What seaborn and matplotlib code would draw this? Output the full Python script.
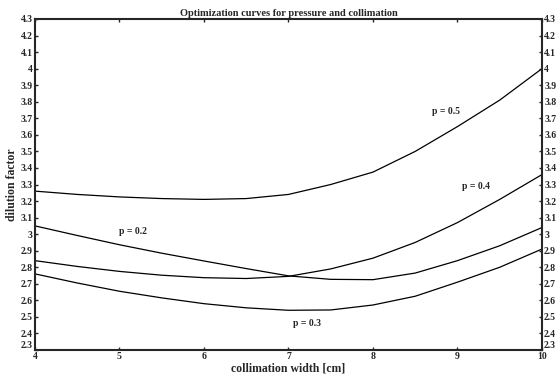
import numpy as np
import pandas as pd
import seaborn as sns
import matplotlib
matplotlib.use("Agg")
import matplotlib.pyplot as plt
import matplotlib.ticker as ticker
import matplotlib.transforms as mtransforms

# values
width = [4.0, 4.5, 5.0, 5.5, 6.0, 6.5, 7.0, 7.5, 8.0, 8.5, 9.0, 9.5, 10.0]
p02 = [3.05, 2.992, 2.936, 2.885, 2.838, 2.792, 2.748, 2.727, 2.725, 2.765, 2.84, 2.93, 3.04]
p03 = [2.76, 2.705, 2.655, 2.615, 2.58, 2.555, 2.54, 2.542, 2.572, 2.625, 2.71, 2.80, 2.91]
p04 = [2.84, 2.805, 2.775, 2.752, 2.737, 2.732, 2.745, 2.79, 2.855, 2.95, 3.07, 3.21, 3.36]
p05 = [3.26, 3.24, 3.225, 3.215, 3.21, 3.215, 3.24, 3.30, 3.375, 3.50, 3.65, 3.81, 4.0]

labels = ["p = 0.2", "p = 0.3", "p = 0.4", "p = 0.5"]
label_pos = [(5.16, 3.015), (7.22, 2.463), (9.22, 3.285), (8.86, 3.74)]

yticks = np.round(np.arange(2.3, 4.31, 0.1), 1)
xticks = [4, 5, 6, 7, 8, 9, 10]

df = pd.DataFrame({
    "width": width * 4,
    "dilution": p02 + p03 + p04 + p05,
    "p": sum([[lab] * len(width) for lab in labels], []),
})

sns.set_style("ticks")
plt.rcParams['font.family'] = ['Liberation Serif', 'DejaVu Serif']
plt.rcParams['font.weight'] = 'bold'

fig = plt.figure(figsize=(5.58, 3.76), dpi=100)
ax = fig.add_axes([0.0627, 0.0691, 0.9086, 0.8804])

sns.lineplot(data=df, x="width", y="dilution", hue="p", palette=["black"] * 4,
             legend=False, linewidth=0.9, ax=ax)

for lab, (lx, ly) in zip(labels, label_pos):
    ax.text(lx, ly, lab, fontsize=7, fontweight='bold', ha='center', va='center')

ax.set_xlim(4, 10)
ax.set_ylim(2.3, 4.3)
ax.set_xticks(xticks)
ax.set_yticks(yticks)
ax.xaxis.set_major_formatter(ticker.FuncFormatter(lambda v, pos: f"{v:g}"))
ax.yaxis.set_major_formatter(ticker.FuncFormatter(lambda v, pos: f"{v:g}"))

ax.tick_params(axis='x', which='both', bottom=True, top=True, direction='in',
               length=2.5, width=1, labelsize=7, pad=1.5)
ax.tick_params(axis='y', which='both', left=True, right=True, labelright=True,
               direction='in', length=2.5, width=1, labelsize=7, pad=1.5)
for lbl in ax.get_xticklabels() + ax.get_yticklabels():
    lbl.set_fontweight('bold')

# lift the lowest y labels a little, like the reference, so they clear "4" and "10"
lift = mtransforms.ScaledTranslation(0, 4 / 72, fig.dpi_scale_trans)
t0 = ax.yaxis.get_major_ticks()[0]
t0.label1.set_transform(t0.label1.get_transform() + lift)
t0.label2.set_transform(t0.label2.get_transform() + lift)

for sp in ax.spines.values():
    sp.set_visible(True)
    sp.set_linewidth(1.5)

ax.set_xlabel("collimation width [cm]", fontsize=8.5, fontweight='bold', labelpad=1)
ax.set_ylabel("dilution factor", fontsize=8.5, fontweight='bold', labelpad=2)
ax.set_title("Optimization curves for pressure and collimation", fontsize=7.5,
             fontweight='bold', pad=2)

fig.savefig("out.png", dpi=100)
